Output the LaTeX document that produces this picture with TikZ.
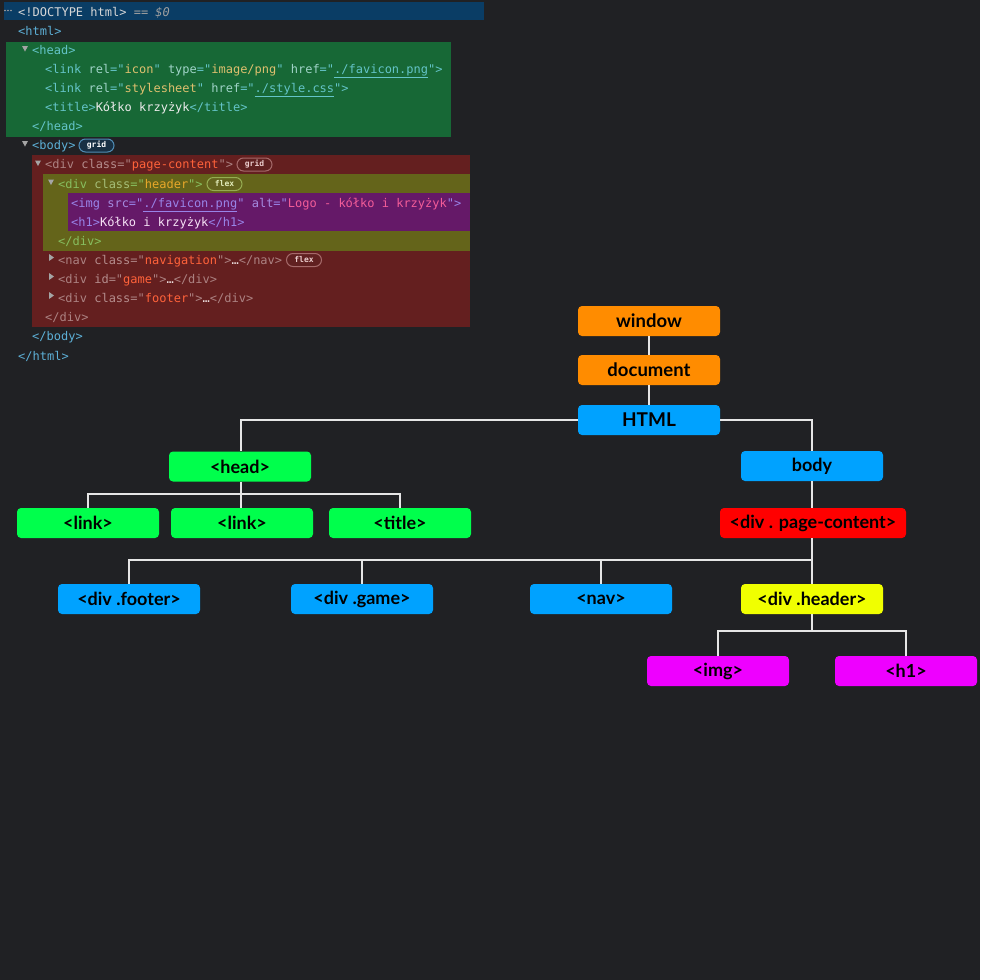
\documentclass[tikz,border=0pt]{standalone}
\usepackage{fontspec}
\setmonofont{DejaVu Sans Mono}
\newfontfamily\lato{Lato}
\usetikzlibrary{calc}
\definecolor{bg}{RGB}{32,33,36}
\definecolor{dtbar}{RGB}{10,61,101}
\definecolor{grnblk}{RGB}{23,104,54}
\definecolor{redblk}{RGB}{100,31,31}
\definecolor{olvblk}{RGB}{100,100,26}
\definecolor{prpblk}{RGB}{101,25,104}
\definecolor{boxorange}{RGB}{255,140,0}
\definecolor{boxblue}{RGB}{0,162,255}
\definecolor{boxgreen}{RGB}{0,255,76}
\definecolor{boxred}{RGB}{255,0,0}
\definecolor{boxyellow}{RGB}{240,255,0}
\definecolor{boxmag}{RGB}{238,0,255}
\definecolor{wire}{RGB}{230,230,230}
\definecolor{tri}{RGB}{165,165,165}
% default palette
\definecolor{tg}{RGB}{93,176,215}
\definecolor{an}{RGB}{155,187,220}
\definecolor{av}{RGB}{242,151,102}
\definecolor{tx}{RGB}{235,235,235}
\newcommand\ctag[1]{\textcolor{tg}{#1}}
\newcommand\cattr[1]{\textcolor{an}{#1}}
\newcommand\cval[1]{\textcolor{av}{#1}}
\newcommand\ctext[1]{\textcolor{tx}{#1}}
\newcommand\clink[1]{\textcolor{tg}{\underline{#1}}}
\begin{document}
\begin{tikzpicture}[x=1pt,y=-1pt,
  code/.style={anchor=base west,inner sep=0pt,yshift=-1pt,font=\ttfamily\fontsize{12}{12}\selectfont},
  badge/.style={draw,rounded corners=6.5pt,minimum width=35pt,minimum height=13pt,inner sep=0pt,line width=1pt,font=\ttfamily\bfseries\fontsize{8}{8}\selectfont},
  box/.style={rounded corners=4pt,minimum width=142pt,minimum height=30pt,inner sep=0pt,text=black,font=\lato\bfseries\fontsize{18}{18}\selectfont},
  topbox/.style={box,font=\lato\bfseries\fontsize{18.5}{18.5}\selectfont},
  wirestyle/.style={draw=wire,line width=2pt},
]
\fill[bg] (0,0) rectangle (980,980);
\useasboundingbox (0,0) rectangle (980,980);

% ---------- code panel ----------
\fill[dtbar] (4,2) rectangle (484,20);
\fill[grnblk] (6,42) rectangle (451,137);
\fill[redblk] (32,155) rectangle (470,327);
\fill[olvblk] (43,174) rectangle (470,251);
\fill[prpblk] (68,193) rectangle (470,231);

% dots
\foreach \dx in {5,8,11} \fill[tri] (\dx,10.5) circle (0.9);
\node[code] (l0) at (18,15) {\textcolor[RGB]{215,215,215}{<!DOCTYPE html>} \textcolor[RGB]{160,160,160}{\itshape == \$0}};
\node[code] (l1) at (18,34.1) {\ctag{<html>}};

% head block (green)
\begin{scope}
\definecolor{tg}{RGB}{100,196,200}
\definecolor{an}{RGB}{160,212,200}
\definecolor{av}{RGB}{222,192,110}
\fill[tri] (22,46) -- (28,46) -- (25,51.5) -- cycle;
\node[code] (l2) at (32,53.2) {\ctag{<head>}};
\node[code] (l3) at (45,72.3) {\ctag{<link} \cattr{rel}\ctag{="}\cval{icon}\ctag{"} \cattr{type}\ctag{="}\cval{image/png}\ctag{"} \cattr{href}\ctag{="}\clink{./favicon.png}\ctag{">}};
\node[code] (l4) at (45,91.4) {\ctag{<link} \cattr{rel}\ctag{="}\cval{stylesheet}\ctag{"} \cattr{href}\ctag{="}\clink{./style.css}\ctag{">}};
\node[code] (l5) at (45,110.6) {\ctag{<title>}\ctext{Kółko krzyżyk}\ctag{</title>}};
\node[code] (l6) at (32,129.7) {\ctag{</head>}};
\end{scope}

% body
\fill[tri] (22,141) -- (28,141) -- (25,146.5) -- cycle;
\node[code] (l7) at (32,148.8) {\ctag{<body>}};
\node[badge,draw={rgb,255:red,80;green,140;blue,180},fill={rgb,255:red,24;green,48;blue,68},text=white] (b1) at (96.5,145.5) {grid};

% page-content (red)
\begin{scope}
\definecolor{tg}{RGB}{172,130,130}
\definecolor{an}{RGB}{180,140,140}
\definecolor{av}{RGB}{255,98,58}
\definecolor{tx}{RGB}{235,220,220}
\fill[tri] (35,160.5) -- (41,160.5) -- (38,166) -- cycle;
\node[code] (l8) at (45,167.9) {\ctag{<div} \cattr{class}\ctag{="}\cval{page-content}\ctag{">}};
\node[badge,draw={rgb,255:red,165;green,105;blue,105},fill={rgb,255:red,96;green,32;blue,32},text={rgb,255:red,235;green,205;blue,205}] (b2) at (254.5,164.5) {grid};
\fill[tri] (49,254) -- (54,257.5) -- (49,261) -- cycle;
\node[code] (l13) at (58,263.4) {\ctag{<nav} \cattr{class}\ctag{="}\cval{navigation}\ctag{">}\ctext{…}\ctag{</nav>}};
\node[badge,draw={rgb,255:red,165;green,105;blue,105},fill={rgb,255:red,96;green,32;blue,32},text={rgb,255:red,235;green,205;blue,205}] (b4) at (304,260) {flex};
\fill[tri] (49,273) -- (54,276.5) -- (49,280) -- cycle;
\node[code] (l14) at (58,282.5) {\ctag{<div} \cattr{id}\ctag{="}\cval{game}\ctag{">}\ctext{…}\ctag{</div>}};
\fill[tri] (49,292) -- (54,295.5) -- (49,299) -- cycle;
\node[code] (l15) at (58,301.7) {\ctag{<div} \cattr{class}\ctag{="}\cval{footer}\ctag{">}\ctext{…}\ctag{</div>}};
\node[code] (l16) at (45,320.8) {\ctag{</div>}};
\end{scope}

% header (olive)
\begin{scope}
\definecolor{tg}{RGB}{135,190,95}
\definecolor{an}{RGB}{165,190,120}
\definecolor{av}{RGB}{232,168,42}
\fill[tri] (48,179.5) -- (54,179.5) -- (51,185) -- cycle;
\node[code] (l9) at (58,187) {\ctag{<div} \cattr{class}\ctag{="}\cval{header}\ctag{">}};
\node[badge,draw={rgb,255:red,150;green,172;blue,82},fill={rgb,255:red,100;green,100;blue,30},text={rgb,255:red,225;green,235;blue,185}] (b3) at (224.5,184) {flex};
\node[code] (l12) at (58,244.3) {\ctag{</div>}};
\end{scope}

% img / h1 (purple)
\begin{scope}
\definecolor{tg}{RGB}{152,132,232}
\definecolor{an}{RGB}{165,140,225}
\definecolor{av}{RGB}{242,92,152}
\definecolor{tx}{RGB}{245,225,245}
\node[code] (l10) at (71,206.1) {\ctag{<img} \cattr{src}\ctag{="}\clink{./favicon.png}\ctag{"} \cattr{alt}\ctag{="}\cval{Logo - kółko i krzyżyk}\ctag{">}};
\node[code] (l11) at (71,225.2) {\ctag{<h1>}\ctext{Kółko i krzyżyk}\ctag{</h1>}};
\end{scope}

\node[code] (l17) at (32,339.9) {\ctag{</body>}};
\node[code] (l18) at (18,359) {\ctag{</html>}};

% ---------- tree ----------
\node[topbox,fill=boxorange] (window) at (649,321) {window};
\node[topbox,fill=boxorange] (document) at (649,370) {document};
\node[box,fill=boxblue,font=\lato\bfseries\fontsize{19}{19}\selectfont] (html) at (649,420) {HTML};
\node[box,fill=boxgreen] (head) at (240,466.5) {<head>};
\node[box,fill=boxblue] (body) at (812,466) {body};
\node[box,fill=boxgreen] (link1) at (88,523) {<link>};
\node[box,fill=boxgreen] (link2) at (242,523) {<link>};
\node[box,fill=boxgreen] (title) at (400,523) {<title>};
\node[box,fill=boxred,minimum width=186pt] (pc) at (813,523) {<div . page-content>};
\node[box,fill=boxblue] (footer) at (129,599) {<div .footer>};
\node[box,fill=boxblue] (game) at (362,599) {<div .game>};
\node[box,fill=boxblue] (nav) at (601,599) {<nav>};
\node[box,fill=boxyellow] (header) at (812,599) {<div .header>};
\node[box,fill=boxmag] (img) at (718,671) {<img>};
\node[box,fill=boxmag] (h1) at (906,671) {<h1>};

\coordinate (hj) at (241,494);
\coordinate (pj) at (812,560);
\coordinate (xj) at (812,631);

\draw[wirestyle] (window) -- (document);
\draw[wirestyle] (document) -- (html);
\draw[wirestyle] (html.west) -| (head.north -| hj);
\draw[wirestyle] (html.east) -| (body.north);
\draw[wirestyle] (head.south -| hj) -- (hj);
\draw[wirestyle] (hj) -| (link1.north);
\draw[wirestyle] (hj) -- (link2.north -| hj);
\draw[wirestyle] (hj) -| (title.north);
\draw[wirestyle] (body.south) -- (pc.north -| body.south);
\draw[wirestyle] (pc.south -| header.north) -- (header.north);
\draw[wirestyle] (pj) -| (footer.north);
\draw[wirestyle] (pj) -| (game.north);
\draw[wirestyle] (pj) -| (nav.north);
\draw[wirestyle] (header.south) -- (xj);
\draw[wirestyle] (xj) -| (img.north);
\draw[wirestyle] (xj) -| (h1.north);
\end{tikzpicture}
\end{document}
